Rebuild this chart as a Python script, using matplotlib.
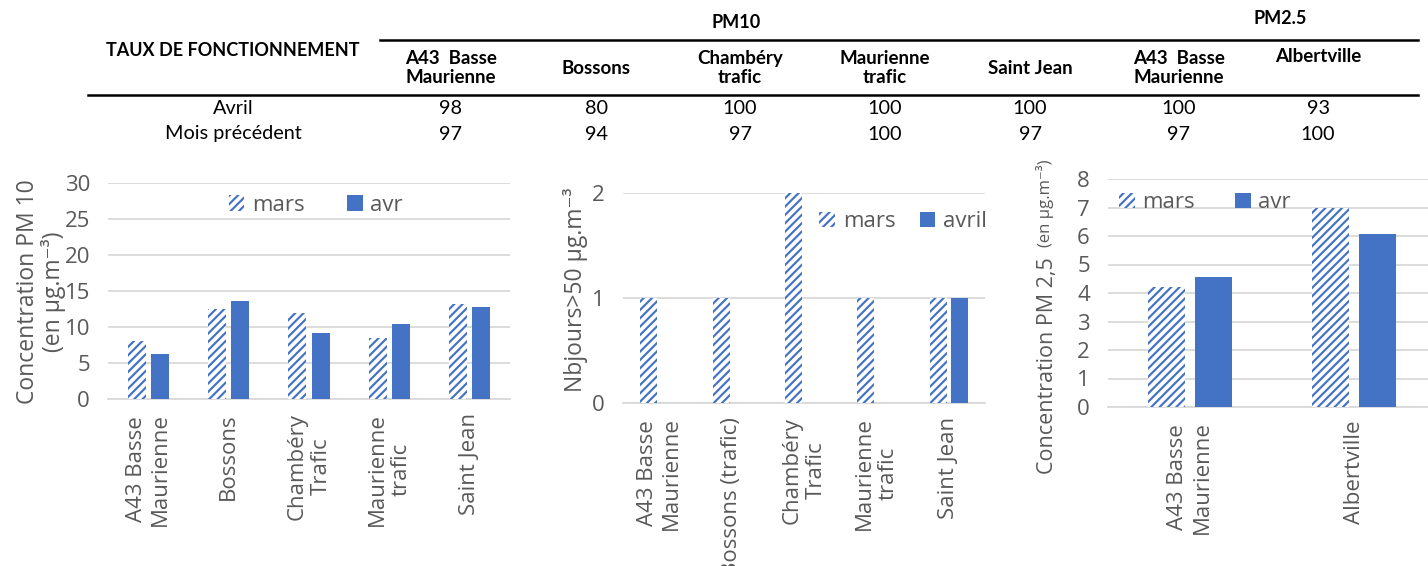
import numpy as np
import matplotlib
matplotlib.use("Agg")
import matplotlib.pyplot as plt
from matplotlib.lines import Line2D

plt.rcParams['font.family'] = ['Open Sans', 'DejaVu Sans']
plt.rcParams['hatch.linewidth'] = 1.55

BLUE = '#4472C4'
GREY = '#595959'
GRID = '#D9D9D9'
W, H = 1428, 566

# tableau des taux de fonctionnement
table_cols = ["A43  Basse\nMaurienne", "Bossons", "Chambéry\ntrafic", "Maurienne\ntrafic",
              "Saint Jean", "A43  Basse\nMaurienne", "Albertville"]
taux_avril = [98, 80, 100, 100, 100, 100, 93]
taux_precedent = [97, 94, 97, 100, 97, 97, 100]

# graphe 1 : concentration PM10
pm10_sites = ["A43 Basse\nMaurienne", "Bossons", "Chambéry\nTrafic", "Maurienne\ntrafic", "Saint Jean"]
pm10_mars = [8.0, 12.5, 11.9, 8.5, 13.2]
pm10_avr = [6.2, 13.6, 9.2, 10.4, 12.8]

# graphe 2 : nb jours > 50
jours_sites = ["A43 Basse\nMaurienne", "Bossons (trafic)", "Chambéry\nTrafic", "Maurienne\ntrafic", "Saint Jean"]
jours_mars = [1, 1, 2, 1, 1]
jours_avril = [0, 0, 0, 0, 1]

# graphe 3 : concentration PM2.5
pm25_sites = ["A43 Basse\nMaurienne", "Albertville"]
pm25_mars = [4.2, 7.0]
pm25_avr = [4.55, 6.06]


def fx(x):
    return x / W


def fy(y):
    return 1 - y / H


fig = plt.figure(figsize=(W / 100, H / 100), dpi=100)

# --- table ---
tfont = dict(family=['Lato', 'DejaVu Sans'], color='black')
col_x = [451, 596, 740, 885, 1030, 1179, 1318]
fig.text(fx(736), fy(22), "PM10", ha='center', va='center', fontweight='bold', fontsize=13, **tfont)
fig.text(fx(1280), fy(18), "PM2.5", ha='center', va='center', fontweight='bold', fontsize=13, **tfont)
fig.text(fx(233), fy(50), "TAUX DE FONCTIONNEMENT", ha='center', va='center', fontweight='bold',
         fontsize=13, **tfont)
for i, name in enumerate(table_cols):
    ma = 'left' if name.startswith('A43') else 'center'
    yy = 68 if name != "Albertville" else 56
    fig.text(fx(col_x[i]), fy(yy), name, ha='center', va='center', multialignment=ma,
             fontweight='bold', fontsize=13.5, linespacing=1.2, **tfont)
    fig.text(fx(col_x[i]), fy(109), str(taux_avril[i]), ha='center', va='center', fontsize=14.3, **tfont)
    fig.text(fx(col_x[i]), fy(134), str(taux_precedent[i]), ha='center', va='center', fontsize=14.3, **tfont)
fig.text(fx(233), fy(109), "Avril", ha='center', va='center', fontsize=14.3, **tfont)
fig.text(fx(233), fy(134), "Mois précédent", ha='center', va='center', fontsize=14.3, **tfont)
fig.add_artist(Line2D([fx(380), fx(1418)], [fy(40), fy(40)], color='black', lw=1.8))
fig.add_artist(Line2D([fx(88), fx(1418)], [fy(95), fy(95)], color='black', lw=1.8))


def bar_chart(rect, labels, mars, avr, names, width, off, ymax, step, leg_xy, colsp):
    ax = fig.add_axes(rect)
    x = np.arange(len(labels))
    ax.bar(x - off, mars, width, facecolor='white', edgecolor=BLUE, hatch='////',
           linewidth=0, label=names[0], zorder=3)
    ax.bar(x + off, avr, width, color=BLUE, linewidth=0, label=names[1], zorder=3)
    ax.set_xlim(-0.5, len(labels) - 0.5)
    ax.set_ylim(0, ymax)
    ax.set_yticks(np.arange(0, ymax + step / 2, step))
    ax.set_xticks(x)
    ax.set_xticklabels(labels, rotation=90, multialignment='center')
    ax.yaxis.grid(True, color=GRID, lw=1.3, zorder=0)
    for s in ['top', 'left', 'right']:
        ax.spines[s].set_visible(False)
    ax.spines['bottom'].set_color(GRID)
    ax.spines['bottom'].set_linewidth(1.3)
    ax.tick_params(axis='both', length=0, labelsize=16, colors=GREY)
    ax.tick_params(axis='y', pad=13)
    ax.tick_params(axis='x', pad=10)
    leg = ax.legend(loc='center', bbox_to_anchor=leg_xy, ncol=2, frameon=False,
                    fontsize=16, handlelength=0.7, handleheight=0.7,
                    handletextpad=0.35, columnspacing=colsp, borderaxespad=0)
    for t in leg.get_texts():
        t.set_color(GREY)
    return ax


bar_chart([fx(108), fy(399), (510 - 108) / W, (399 - 183) / H], pm10_sites, pm10_mars, pm10_avr,
          ["mars", "avr"], 0.225, 0.144, 30, 5, (0.517, 0.898), 1.9)
bar_chart([fx(623), fy(403), (985 - 623) / W, (403 - 193) / H], jours_sites, jours_mars, jours_avril,
          ["mars", "avril"], 0.235, 0.145, 2, 1, (0.774, 0.862), 1.1)
bar_chart([fx(1108), fy(407), 328 / W, (407 - 179) / H], pm25_sites, pm25_mars, pm25_avr,
          ["mars", "avr"], 0.226, 0.142, 8, 1, (0.296, 0.895), 1.8)

# titres des axes y
fig.text(fx(41), fy(292), "Concentration PM 10\n(en µg.m⁻³)", rotation=90, ha='center', va='center',
         multialignment='center', fontsize=16.5, color=GREY, linespacing=1.05)
fig.text(fx(575), fy(290), "Nbjours>50 µg.m⁻³", rotation=90, ha='center', va='center',
         fontsize=16.5, color=GREY)
fig.text(fx(1047), fy(366), "Concentration PM 2,5", rotation=90, ha='center', va='center',
         fontsize=15.5, color=GREY)
fig.text(fx(1045), fy(203), "(en µg.m⁻³)", rotation=90, ha='center', va='center',
         fontsize=12, color=GREY)

fig.savefig("out.png", dpi=100)
